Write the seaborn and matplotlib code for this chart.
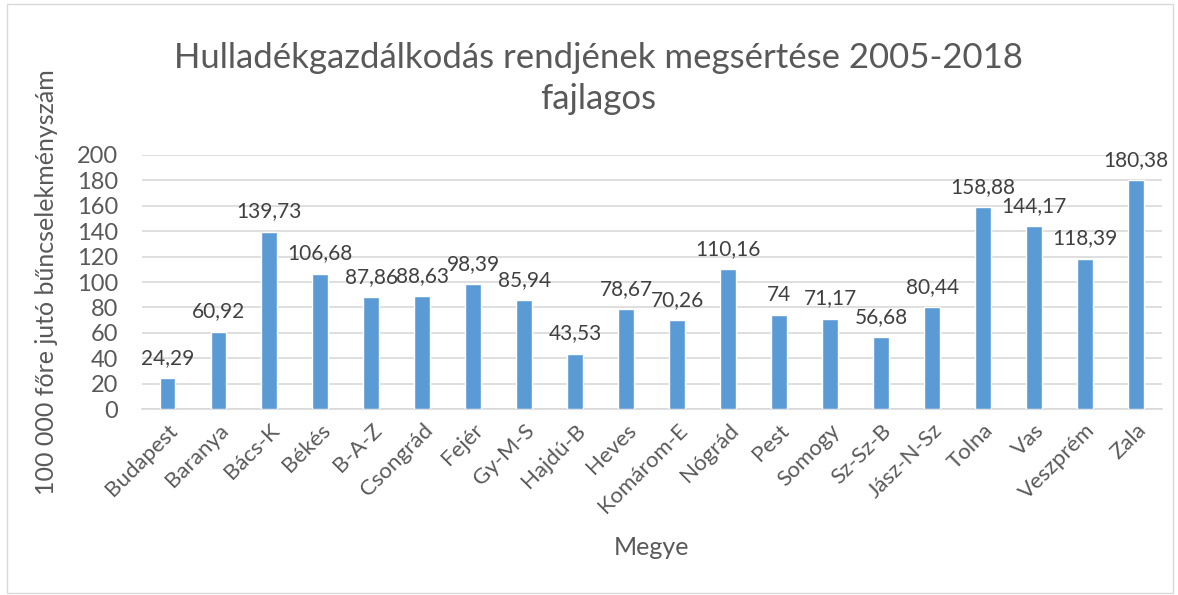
import matplotlib
import matplotlib.pyplot as plt
import pandas as pd
import seaborn as sns

matplotlib.use('Agg')

megye = ['Budapest', 'Baranya', 'Bács-K', 'Békés', 'B-A-Z', 'Csongrád', 'Fejér',
         'Gy-M-S', 'Hajdú-B', 'Heves', 'Komárom-E', 'Nógrád', 'Pest', 'Somogy',
         'Sz-Sz-B', 'Jász-N-Sz', 'Tolna', 'Vas', 'Veszprém', 'Zala']
ertek = [24.29, 60.92, 139.73, 106.68, 87.86, 88.63, 98.39, 85.94, 43.53, 78.67,
         70.26, 110.16, 74, 71.17, 56.68, 80.44, 158.88, 144.17, 118.39, 180.38]
cimkek = ['24,29', '60,92', '139,73', '106,68', '87,86', '88,63', '98,39', '85,94',
          '43,53', '78,67', '70,26', '110,16', '74', '71,17', '56,68', '80,44',
          '158,88', '144,17', '118,39', '180,38']

df = pd.DataFrame({'Megye': megye, 'Ertek': ertek})

sns.set_style('white')
plt.rcParams['font.family'] = ['Lato', 'DejaVu Sans']
szurke = '#595959'

fig = plt.figure(figsize=(11.78, 5.95), dpi=100)
ax = fig.add_axes([0.1205, 0.3126, 0.8655, 0.4269])

sns.barplot(data=df, x='Megye', y='Ertek', color='#5B9BD5', width=0.31,
            saturation=1, ax=ax, zorder=3)

for i, (v, t) in enumerate(zip(ertek, cimkek)):
    ax.text(i, v + 8, t, ha='center', va='bottom', fontsize=15, color='#404040')

ax.set_ylim(0, 200)
ax.set_xlim(-0.5, len(megye) - 0.5)
ax.set_yticks(range(0, 201, 20))
ax.yaxis.grid(True, color='#d9d9d9', linewidth=1.2, zorder=0)
for s in ['top', 'right', 'left']:
    ax.spines[s].set_visible(False)
ax.spines['bottom'].set_color('#d9d9d9')
ax.spines['bottom'].set_linewidth(1.2)
ax.tick_params(axis='y', length=0, colors=szurke, labelsize=17, pad=17)
ax.tick_params(axis='x', length=0, colors=szurke, labelsize=16, pad=8)
plt.setp(ax.get_xticklabels(), rotation=45, ha='right', rotation_mode='anchor')

ax.set_xlabel('Megye', fontsize=18, color=szurke, labelpad=14)
ax.set_ylabel('100 000 főre jutó bűncselekményszám', fontsize=18, color=szurke,
              labelpad=14)

fig.text(0.508, 0.93, 'Hulladékgazdálkodás rendjének megsértése 2005-2018\nfajlagos',
         ha='center', va='top', fontsize=25, color=szurke, linespacing=1.35)

fig.patches.append(plt.Rectangle((0.006, 0.004), 0.99, 0.99, transform=fig.transFigure,
                                 fill=False, edgecolor='#d9d9d9', linewidth=1))

plt.savefig('out.png', dpi=100)
plt.close()
